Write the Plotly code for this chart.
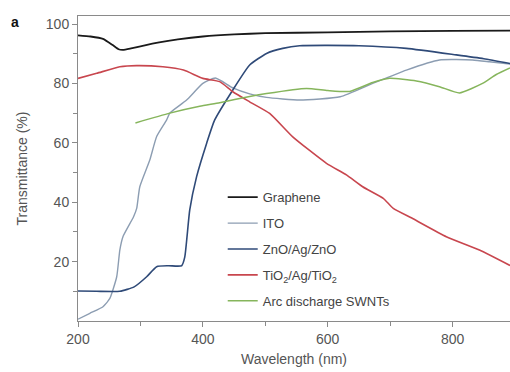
import plotly.graph_objects as go

# ---- data ----
graphene_wl = [200, 220, 240, 255, 265, 272, 285, 300, 330, 360, 400, 450, 500, 600, 700, 800, 900]
graphene_t = [96.2, 95.8, 95.0, 93.0, 91.5, 91.3, 91.8, 92.5, 93.8, 94.8, 95.8, 96.5, 96.9, 97.2, 97.5, 97.7, 97.8]

ito_wl = [200, 219, 240, 251, 262, 267, 272, 289, 294, 299, 315, 326, 342, 347, 374, 400, 420,
          448, 475, 502, 555, 620, 672, 726, 779, 832, 859, 892]
ito_t = [0.6, 2.6, 4.8, 7.6, 14.9, 23.9, 28.4, 35.1, 37.9, 45.2, 54.2, 62.1, 67.7, 70.0, 74.4, 80.0, 81.8,
         78.5, 76.5, 75.3, 74.4, 75.5, 80.0, 84.5, 87.9, 87.9, 87.3, 86.5]

zno_wl = [200, 230, 267, 290, 310, 326, 345, 366, 371, 379, 390, 406, 419, 448, 475, 502, 528, 555,
          600, 650, 726, 806, 850, 892]
zno_t = [10.1, 10.0, 10.0, 11.5, 14.9, 18.3, 18.6, 18.6, 21.5, 37.4, 48.6, 59.8, 67.7, 77.8, 86.2, 90.1,
         91.8, 92.7, 92.8, 92.7, 91.8, 89.6, 88.3, 86.7]

tio2_wl = [200, 230, 267, 294, 336, 369, 400, 427, 448, 475, 507, 544, 598, 630, 656, 689, 705, 736,
           790, 843, 892]
tio2_t = [81.7, 83.4, 85.6, 86.0, 85.6, 84.5, 81.7, 80.6, 77.2, 73.8, 69.9, 62.0, 53.1, 49.2, 45.2,
          41.3, 37.9, 34.5, 28.4, 23.9, 18.7]

swnt_wl = [292, 347, 395, 427, 475, 502, 566, 600, 635, 672, 699, 742, 779, 811, 848, 870, 892]
swnt_t = [66.7, 70.0, 72.3, 73.5, 75.6, 76.6, 78.3, 77.6, 77.3, 80.3, 81.7, 80.8, 78.9, 76.8, 80.0, 83.0, 85.2]

series = [
    ("Graphene", graphene_wl, graphene_t, "#1a1a1a", 1.8),
    ("ITO", ito_wl, ito_t, "#8c9db2", 1.4),
    ("ZnO/Ag/ZnO", zno_wl, zno_t, "#2f4a78", 1.6),
    ("TiO<sub>2</sub>/Ag/TiO<sub>2</sub>", tio2_wl, tio2_t, "#c8464e", 1.6),
    ("Arc discharge SWNTs", swnt_wl, swnt_t, "#86b55c", 1.5),
]

FONT = "Liberation Sans, Arial, sans-serif"

fig = go.Figure()
for i, (name, x, y, col, w) in enumerate(series):
    fig.add_trace(go.Scatter(
        x=x, y=y, mode="lines", name=name,
        line=dict(color=col, width=w, shape="spline", smoothing=0.5),
        legendgroup=f"g{i}",
    ))

axis_col = "#8a8a8a"
fig.update_layout(
    width=510, height=372,
    margin=dict(l=78, r=0, t=16, b=51),
    paper_bgcolor="white", plot_bgcolor="white",
    font=dict(family=FONT, color="#555555", size=13),
    showlegend=True,
    legend=dict(
        x=0.335, y=0.455, xanchor="left", yanchor="top",
        bgcolor="rgba(0,0,0,0)", borderwidth=0,
        font=dict(family=FONT, size=13, color="#444444"),
        tracegroupgap=6, itemwidth=30,
    ),
    xaxis=dict(
        range=[200, 892], showgrid=False, zeroline=False,
        showline=True, linecolor=axis_col, linewidth=1, mirror=True,
        ticks="outside", ticklen=5, tickcolor=axis_col,
        tickvals=[200, 400, 600, 800], ticktext=["200", "400", "600", "800"],
        minor=dict(tickvals=[300, 500, 700], ticks="outside", ticklen=4, tickcolor=axis_col),
        tickfont=dict(size=14, color="#555555"),
        title=dict(text="Wavelength (nm)", font=dict(size=14, color="#555555"), standoff=8),
    ),
    yaxis=dict(
        range=[0, 102.7], showgrid=False, zeroline=False,
        showline=True, linecolor=axis_col, linewidth=1,
        ticks="outside", ticklen=5, tickcolor=axis_col,
        tickvals=[20, 40, 60, 80, 100],
        minor=dict(tickvals=[10, 30, 50, 70, 90], ticks="outside", ticklen=4, tickcolor=axis_col),
        tickfont=dict(size=14, color="#555555"),
        title=dict(text="Transmittance (%)", font=dict(size=14, color="#555555"), standoff=14),
    ),
    annotations=[dict(
        text="<b>a</b>", xref="paper", yref="paper", x=-0.146, y=0.98,
        xanchor="center", yanchor="middle", showarrow=False,
        font=dict(family=FONT, size=14, color="#111111"),
    )],
)

fig.write_html("out.html")
